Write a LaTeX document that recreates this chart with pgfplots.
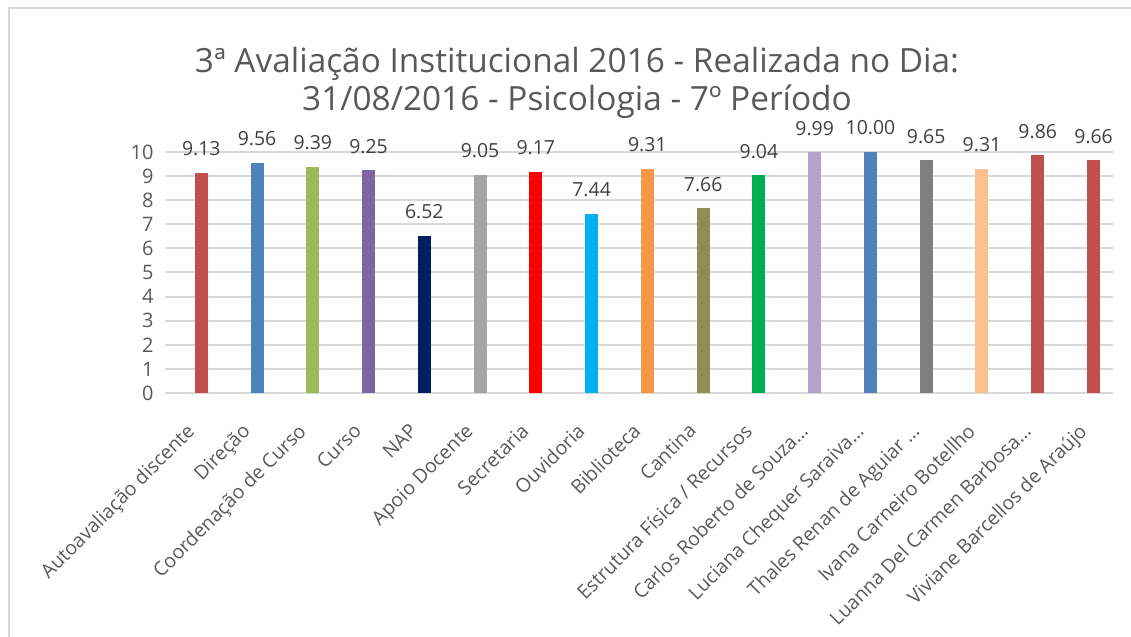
\documentclass[border=0pt]{standalone}
\usepackage{fontspec}
\setmainfont{Open Sans}
\usepackage{pgfplots}
\pgfplotsset{compat=1.18}
\definecolor{txt}{HTML}{595959}
\definecolor{lbl}{HTML}{404040}
\definecolor{grd}{HTML}{D9D9D9}
\definecolor{c1}{HTML}{C0504D}
\definecolor{c2}{HTML}{4F81BD}
\definecolor{c3}{HTML}{9BBB59}
\definecolor{c4}{HTML}{8064A2}
\definecolor{c5}{HTML}{002060}
\definecolor{c6}{HTML}{A5A5A5}
\definecolor{c7}{HTML}{FF0000}
\definecolor{c8}{HTML}{00B0F0}
\definecolor{c9}{HTML}{F79646}
\definecolor{c10}{HTML}{948A54}
\definecolor{c11}{HTML}{00B050}
\definecolor{c12}{HTML}{B3A2C7}
\definecolor{c13}{HTML}{4F81BD}
\definecolor{c14}{HTML}{7F7F7F}
\definecolor{c15}{HTML}{FAC090}
\definecolor{c16}{HTML}{C0504D}
\definecolor{c17}{HTML}{C0504D}
\begin{document}
\begin{tikzpicture}[x=1bp,y=1bp]
\path[use as bounding box] (0,0) rectangle (1131,637);
\draw[grd, line width=2bp] (8.5,0) -- (8.5,628.5) -- (1131,628.5);
\node[txt, font=\fontsize{33.5}{38}\selectfont, align=center] at (577,554)
  {3ª Avaliação Institucional 2016 - Realizada no Dia:\\31/08/2016 - Psicologia - 7º Período};
\begin{axis}[
  at={(165bp,244bp)}, anchor=south west,
  scale only axis, width=948bp, height=241bp,
  xmin=-0.65, xmax=16.35, ymin=0, ymax=10,
  ytick={0,1,...,10},
  xtick={0,1,...,16},
  xticklabels={Autoavaliação discente, Direção, Coordenação de Curso, Curso, NAP, Apoio Docente, Secretaria, Ouvidoria, Biblioteca, Cantina, Estrutura Física / Recursos, Carlos Roberto de Souza…, Luciana Chequer Saraiva…, Thales Renan de Aguiar …, Ivana Carneiro Botellho, Luanna Del Carmen Barbosa…, Viviane Barcellos de Araújo},
  x tick label style={xshift=-16bp, yshift=-29bp, rotate=45, anchor=north east, font=\fontsize{19.5}{23}\selectfont, color=txt, inner sep=0bp},
  y tick label style={font=\fontsize{20}{24}\selectfont, color=txt, xshift=-8bp},
  /pgf/number format/assume math mode=true,
  major tick length=0pt,
  axis line style={draw=none},
  ymajorgrids, grid style={grd, line width=2bp},
  ybar, bar width=13bp, bar shift=0pt,
  clip=false,
  nodes near coords,
  nodes near coords style={font=\fontsize{19.5}{23}\selectfont, color=lbl, anchor=base, yshift=17bp,
    /pgf/number format/fixed, /pgf/number format/fixed zerofill, /pgf/number format/precision=2},
]
\addplot[fill=c1, draw=none] coordinates {(0,9.13)};
\addplot[fill=c2, draw=none] coordinates {(1,9.56)};
\addplot[fill=c3, draw=none] coordinates {(2,9.39)};
\addplot[fill=c4, draw=none] coordinates {(3,9.25)};
\addplot[fill=c5, draw=none] coordinates {(4,6.52)};
\addplot[fill=c6, draw=none] coordinates {(5,9.05)};
\addplot[fill=c7, draw=none] coordinates {(6,9.17)};
\addplot[fill=c8, draw=none] coordinates {(7,7.44)};
\addplot[fill=c9, draw=none] coordinates {(8,9.31)};
\addplot[fill=c10, draw=none] coordinates {(9,7.66)};
\addplot[fill=c11, draw=none] coordinates {(10,9.04)};
\addplot[fill=c12, draw=none] coordinates {(11,9.99)};
\addplot[fill=c13, draw=none] coordinates {(12,10.00)};
\addplot[fill=c14, draw=none] coordinates {(13,9.65)};
\addplot[fill=c15, draw=none] coordinates {(14,9.31)};
\addplot[fill=c16, draw=none] coordinates {(15,9.86)};
\addplot[fill=c17, draw=none] coordinates {(16,9.66)};
\end{axis}
\end{tikzpicture}
\end{document}
